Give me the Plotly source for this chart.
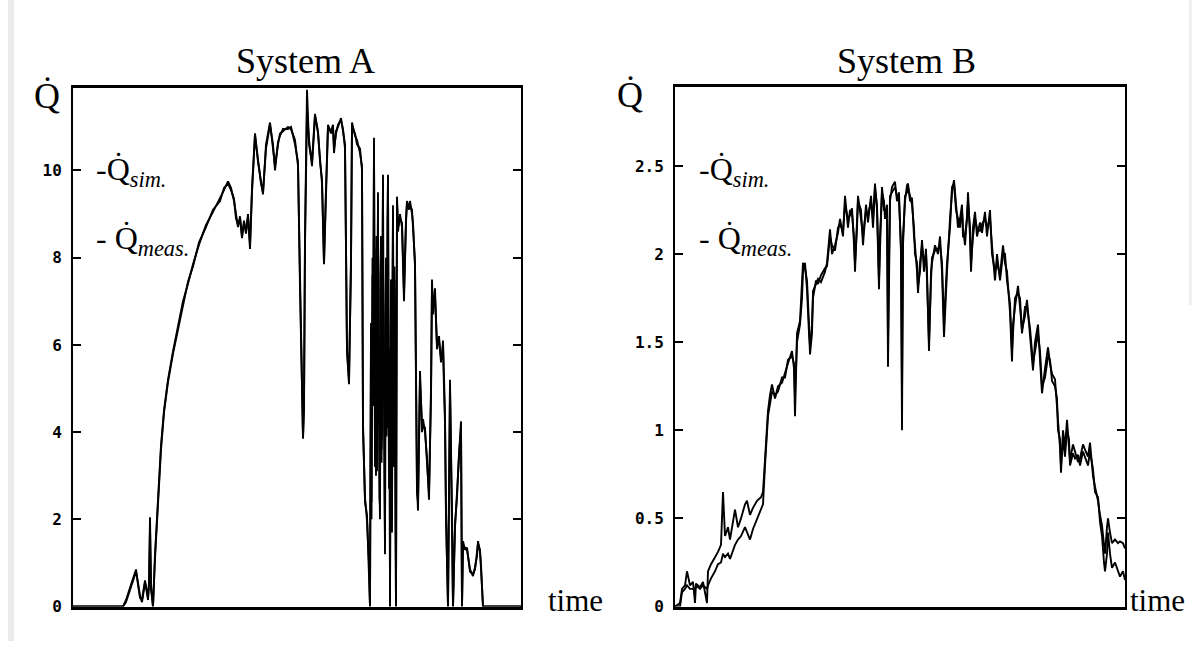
import plotly.graph_objects as go

# ---------------- data : System A ----------------
tA = [0, 50, 53, 56, 60, 63, 65, 67, 69, 71,
      72, 74, 75, 76, 77, 78, 79, 80, 82, 85,
      88, 91, 95, 100, 105, 110, 115, 120, 126, 133,
      140, 147, 151, 155, 158, 161, 163, 165, 167, 169,
      171, 173, 175, 177, 179, 182, 185, 188, 190, 193,
      197, 200, 202, 205, 207, 210, 215, 218, 222, 225,
      227, 229, 230, 231, 232, 234, 236, 239, 242, 245,
      247, 249, 251, 253, 255, 258, 260, 261, 263, 265,
      268, 270, 272, 274, 276, 278, 279, 282, 284, 287,
      289, 290, 292, 294, 296,
      297, 297.5, 298, 298.5, 299, 299.5, 300, 300.5, 301, 301.5,
      302, 302.5, 303, 303.5, 304, 304.5, 305, 305.5, 306, 306.5,
      307, 307.5, 308, 308.5, 309, 309.5, 310, 310.5, 311, 311.5,
      312, 312.5, 313, 313.5, 314, 314.5, 315, 315.5, 316, 316.5,
      317, 317.5, 318, 318.5, 319, 319.5, 320, 320.5, 321, 321.5,
      322, 322.5, 323, 323.5, 324,
      325, 327, 329, 331, 333, 334, 336, 337, 339,
      340, 342, 344, 345, 347, 349, 350, 352, 354, 356,
      358, 359, 360, 362, 364, 366, 368, 369, 370, 371,
      372, 373, 375, 377, 378, 379, 380, 382, 384, 386,
      388, 389, 390, 392, 394, 397, 400, 402, 404, 405,
      407, 408, 410, 448]

simA = [0, 0, 0.15, 0.35, 0.6, 0.85, 0.5, 0.2, 0.15, 0.45,
        0.6, 0.3, 0.2, 0.55, 2.05, 0.4, 0.15, 0.0, 1.2, 2.6,
        3.7, 4.5, 5.2, 5.85, 6.4, 7.0, 7.4, 7.85, 8.3, 8.75,
        9.05, 9.35, 9.55, 9.75, 9.6, 9.3, 9.0, 8.7, 8.95, 8.5,
        8.8, 8.6, 8.95, 8.3, 9.6, 10.85, 10.2, 9.8, 9.45, 10.6,
        11.1, 10.5, 10.1, 10.6, 10.85, 10.9, 11.0, 10.95, 10.7, 10.1,
        7.5, 5.0, 3.85, 4.5, 8.5, 11.85, 10.6, 10.2, 11.3, 10.85,
        10.3, 9.7, 7.85, 9.7, 11.0, 10.9, 11.05, 10.4, 10.9, 11.0,
        11.2, 10.9, 10.6, 5.85, 5.1, 8.0, 11.1, 10.8, 10.7, 10.4,
        10.1, 4.05, 2.5, 1.97, 1.0,
        0.0, 3.0, 6.5, 2.0, 4.5, 8.0, 5.0, 9.5, 10.75, 7.0,
        3.5, 6.0, 3.0, 8.5, 3.1, 6.8, 9.5, 4.2, 6.0, 2.5,
        2.3, 7.2, 8.5, 3.6, 4.0, 7.8, 9.9, 5.0, 5.5, 2.8,
        1.5, 6.2, 8.0, 3.9, 4.5, 8.8, 9.9, 6.0, 3.0, 5.5,
        0.0, 4.0, 7.5, 5.0, 2.0, 6.8, 9.2, 4.8, 3.5, 7.5,
        6.5, 2.0, 0.0, 5.0, 9.4,
        8.6, 9.0, 8.7, 7.0, 8.9, 9.3, 9.1, 9.3, 9.0,
        8.8, 7.8, 2.6, 2.4, 5.4, 4.0, 4.3, 4.0, 3.4, 2.45,
        5.0, 7.5, 6.7, 7.3, 5.9, 6.2, 5.6, 5.8, 6.0, 5.0,
        4.2, 2.2, 0.0, 5.2, 3.5, 2.4, 0.0, 1.8, 2.6, 3.4,
        4.25, 0.0, 1.5, 1.3, 1.35, 0.8, 0.75, 0.85, 1.2, 1.45,
        1.3, 0.9, 0.0, 0.0]

measA = [0, 0, 0.1, 0.3, 0.55, 0.8, 0.55, 0.25, 0.1, 0.4,
         0.55, 0.35, 0.15, 0.5, 1.8, 0.5, 0.1, 0.0, 1.1, 2.5,
         3.6, 4.45, 5.15, 5.8, 6.35, 6.95, 7.45, 7.8, 8.35, 8.7,
         9.1, 9.3, 9.6, 9.7, 9.55, 9.35, 8.9, 8.75, 8.9, 8.45,
         8.85, 8.55, 9.0, 8.2, 9.5, 10.8, 10.3, 9.7, 9.5, 10.5,
         11.05, 10.6, 10.0, 10.65, 10.8, 10.95, 10.95, 11.0, 10.6, 10.2,
         7.3, 4.8, 3.9, 4.7, 8.3, 11.4, 10.7, 10.1, 11.25, 10.9,
         10.2, 9.8, 7.9, 9.6, 11.05, 10.85, 11.0, 10.5, 10.85, 11.05,
         11.15, 10.95, 10.5, 5.9, 5.2, 7.8, 11.0, 10.85, 10.6, 10.5,
         10.0, 4.2, 2.4, 2.1, 0.9,
         0.0, 3.4, 6.0, 2.4, 5.0, 7.6, 4.6, 9.3, 10.5, 7.4,
         3.2, 6.4, 3.4, 8.2, 3.5, 6.4, 9.3, 4.6, 5.6, 2.9,
         2.0, 7.6, 8.2, 3.3, 4.4, 7.4, 9.7, 5.4, 5.1, 3.2,
         1.2, 6.6, 7.7, 4.3, 4.1, 8.5, 9.8, 6.4, 2.7, 5.9,
         0.0, 4.4, 7.2, 5.4, 1.7, 7.1, 9.0, 5.2, 3.2, 7.8,
         6.2, 2.4, 0.0, 5.4, 9.3,
         8.7, 8.9, 8.8, 7.2, 8.8, 9.25, 9.15, 9.2, 9.1,
         8.7, 7.9, 2.8, 2.2, 5.2, 4.2, 4.1, 4.1, 3.3, 2.6,
         4.8, 7.3, 6.9, 7.1, 6.0, 6.1, 5.7, 5.7, 6.1, 4.8,
         4.4, 2.0, 0.0, 5.0, 3.7, 2.2, 0.0, 1.9, 2.5, 3.5,
         4.1, 0.0, 1.4, 1.35, 1.3, 0.85, 0.7, 0.9, 1.15, 1.5,
         1.25, 0.95, 0.0, 0.0]

# ---------------- data : System B ----------------
tB = [0, 5, 7, 10, 12, 15, 18, 20, 21, 25,
      28, 32, 33, 36, 40, 43, 46, 48, 50, 53,
      55, 58, 60, 63, 66, 70, 72, 75, 78, 82,
      86, 88, 90, 93, 95, 97, 100, 103, 107, 110,
      113, 117, 119, 120, 122, 125, 127, 128, 130, 132,
      134, 135, 137, 138, 141, 143, 146, 150, 152, 155,
      157, 160, 163, 165, 168, 170, 173, 175, 177, 179,
      180, 182, 183, 186, 188, 191, 193, 196, 198, 200,
      202, 204, 205, 207, 209, 210, 212, 213, 214, 215,
      217, 220, 222, 224, 226, 227, 228, 230, 232, 233,
      235, 237, 239, 240, 242, 243, 245, 247, 249, 251,
      252, 254, 256, 257, 260, 263, 265, 267, 269, 271,
      272, 275, 277, 279, 281, 283, 285, 287, 288, 290,
      292, 293, 295, 296, 298, 300, 302, 305, 307, 310,
      312, 315, 317, 320, 322, 325, 328, 330, 332, 335,
      337, 338, 340, 343, 345, 347, 350, 352, 355, 358,
      360, 363, 365, 367, 370, 373, 375, 377, 380, 382,
      383, 385, 386, 388, 390, 392, 394, 395, 398, 400,
      403, 405, 408, 410, 413, 415, 418, 420, 423, 425,
      427, 429, 430, 432, 433, 435, 437, 440, 443, 445,
      448, 450]

simB = [0.0, 0.02, 0.1, 0.12, 0.2, 0.12, 0.14, 0.02, 0.13, 0.11,
        0.14, 0.02, 0.2, 0.24, 0.28, 0.31, 0.35, 0.65, 0.4, 0.45,
        0.38, 0.5, 0.55, 0.45, 0.5, 0.58, 0.6, 0.52, 0.56, 0.6,
        0.62, 0.65, 0.85, 1.11, 1.2, 1.26, 1.18, 1.25, 1.27, 1.33,
        1.38, 1.45, 1.35, 1.08, 1.55, 1.62, 1.8, 1.95, 1.92, 1.85,
        1.6, 1.43, 1.55, 1.79, 1.83, 1.86, 1.84, 1.9, 1.95, 2.14,
        2.0, 2.05, 2.12, 2.2, 2.1, 2.33, 2.15, 2.25, 2.23, 2.1,
        1.9, 2.2, 2.33, 2.2, 2.1, 2.25, 2.22, 2.3, 2.2, 2.4,
        2.25, 1.8, 2.1, 2.35, 2.3, 2.2, 2.28, 1.36, 2.0, 2.3,
        2.38, 2.41, 2.3, 2.35, 2.0, 1.0, 2.1, 2.3, 2.39, 2.4,
        2.3, 2.32, 2.1, 2.05, 1.9, 1.78, 1.95, 2.05, 1.95, 2.0,
        1.9, 1.45, 1.9, 1.95, 2.05, 2.0, 2.1, 1.9, 1.53, 1.85,
        1.9, 2.2, 2.35, 2.42, 2.3, 2.15, 2.2, 2.28, 2.1, 2.1,
        2.2, 2.35, 2.1, 1.9, 2.15, 2.24, 2.1, 2.18, 2.12, 2.24,
        2.1, 2.25, 2.0, 1.9, 1.95, 1.88, 2.05, 1.95, 1.9, 1.67,
        1.39, 1.6, 1.7, 1.82, 1.7, 1.57, 1.65, 1.74, 1.54, 1.34,
        1.5, 1.6, 1.4, 1.21, 1.35, 1.47, 1.38, 1.32, 1.29, 1.15,
        1.06, 0.9, 0.76, 1.0, 0.9, 1.06, 0.9, 0.83, 0.92, 0.88,
        0.82, 0.84, 0.92, 0.89, 0.85, 0.93, 0.74, 0.68, 0.6, 0.52,
        0.46, 0.35, 0.3, 0.45, 0.5, 0.42, 0.36, 0.38, 0.36, 0.37,
        0.36, 0.33]

measB = [0.0, 0.0, 0.08, 0.1, 0.12, 0.1, 0.1, 0.1, 0.12, 0.1,
         0.12, 0.1, 0.12, 0.16, 0.2, 0.24, 0.25, 0.3, 0.28, 0.3,
         0.27, 0.32, 0.35, 0.38, 0.4, 0.45, 0.42, 0.38, 0.44, 0.5,
         0.55, 0.58, 0.8, 1.08, 1.15, 1.22, 1.2, 1.22, 1.3, 1.3,
         1.4, 1.42, 1.38, 1.2, 1.5, 1.6, 1.75, 1.9, 1.95, 1.8,
         1.55, 1.48, 1.6, 1.75, 1.85, 1.83, 1.88, 1.92, 1.93, 2.1,
         2.05, 2.02, 2.15, 2.17, 2.13, 2.28, 2.2, 2.22, 2.26, 2.05,
         1.95, 2.15, 2.3, 2.25, 2.05, 2.28, 2.18, 2.33, 2.15, 2.37,
         2.28, 1.85, 2.05, 2.38, 2.25, 2.25, 2.24, 1.5, 1.95, 2.33,
         2.35, 2.38, 2.33, 2.3, 2.05, 1.2, 2.05, 2.33, 2.35, 2.38,
         2.33, 2.28, 2.15, 2.0, 1.95, 1.82, 1.9, 2.08, 1.9, 2.03,
         1.85, 1.5, 1.85, 1.98, 2.02, 2.03, 2.05, 1.95, 1.6, 1.8,
         1.95, 2.15, 2.38, 2.4, 2.25, 2.2, 2.15, 2.25, 2.15, 2.05,
         2.25, 2.3, 2.15, 1.95, 2.1, 2.2, 2.15, 2.13, 2.17, 2.2,
         2.15, 2.2, 2.05, 1.85, 2.0, 1.85, 2.0, 2.0, 1.85, 1.72,
         1.45, 1.55, 1.75, 1.78, 1.75, 1.55, 1.7, 1.7, 1.58, 1.38,
         1.45, 1.55, 1.45, 1.25, 1.3, 1.42, 1.4, 1.28, 1.25, 1.18,
         1.0, 0.95, 0.8, 0.95, 0.85, 1.0, 0.95, 0.8, 0.87, 0.84,
         0.86, 0.8, 0.88, 0.85, 0.8, 0.88, 0.78, 0.65, 0.62, 0.48,
         0.4, 0.25, 0.2, 0.3, 0.42, 0.3, 0.22, 0.25, 0.2, 0.17,
         0.2, 0.15]

assert len(tA) == len(simA) == len(measA), (len(tA), len(simA), len(measA))
assert len(tB) == len(simB) == len(measB), (len(tB), len(simB), len(measB))

ticksA = [0, 2, 4, 6, 8, 10]
ticktextA = ["0", "2", "4", "6", "8", "10"]
ticksB = [0, 0.5, 1, 1.5, 2, 2.5]
ticktextB = ["0", "0.5", "1", "1.5", "2", "2.5"]

W, H = 1196, 651


def px(x):
    return x / W


def py(y):
    return 1 - y / H


fig = go.Figure()
line_style = dict(color="black", width=1.9)
fig.add_trace(go.Scatter(x=tA, y=simA, mode="lines", line=line_style, xaxis="x", yaxis="y", showlegend=False))
fig.add_trace(go.Scatter(x=tA, y=measA, mode="lines", line=line_style, xaxis="x", yaxis="y", showlegend=False))
fig.add_trace(go.Scatter(x=tB, y=simB, mode="lines", line=line_style, xaxis="x2", yaxis="y2", showlegend=False))
fig.add_trace(go.Scatter(x=tB, y=measB, mode="lines", line=line_style, xaxis="x2", yaxis="y2", showlegend=False))

xcommon = dict(showline=True, linecolor="black", linewidth=2.5, mirror=True, ticks="",
               showticklabels=False, showgrid=False, zeroline=False)
ycommon = dict(showline=True, linecolor="black", linewidth=2, mirror="ticks", ticks="inside",
               ticklen=8, tickwidth=2, tickcolor="black", showgrid=False, zeroline=False,
               tickfont=dict(family="DejaVu Sans Mono", size=16, color="black", weight="bold"),
               ticklabelstandoff=6)

fig.update_layout(
    width=W, height=H, margin=dict(l=0, r=0, t=0, b=0),
    paper_bgcolor="white", plot_bgcolor="white",
    xaxis=dict(domain=[px(73), px(521)], range=[0, 448], anchor="y", **xcommon),
    yaxis=dict(domain=[py(616), py(89)], range=[0, 11.9], anchor="x",
               tickvals=ticksA, ticktext=ticktextA, **ycommon),
    xaxis2=dict(domain=[px(675), px(1125)], range=[0, 450], anchor="y2", **xcommon),
    yaxis2=dict(domain=[py(616), py(88)], range=[0, 2.95], anchor="x2",
                tickvals=ticksB, ticktext=ticktextB, **ycommon),
)

serif = "Liberation Serif"
ann = []


def text(x, y, s, size, xanchor="center", yanchor="middle"):
    ann.append(dict(x=px(x), y=py(y), xref="paper", yref="paper", text=s, showarrow=False,
                    xanchor=xanchor, yanchor=yanchor,
                    font=dict(family=serif, size=size, color="black")))


# titles
text(305, 62, "System A", 36)
text(906, 62, "System B", 36)
# y labels
text(47, 98, "Q\u0307", 36)
text(630, 96, "Q\u0307", 36)
# x labels
text(575, 610, "time", 31)
text(1157, 610, "time", 31)
# in-plot legend texts
for x0 in (94, 697):
    text(x0, 174, "-Q\u0307<sub><i>sim.</i></sub>", 32, xanchor="left")
    text(x0, 244, "- Q\u0307<sub><i>meas.</i></sub>", 32, xanchor="left")

fig.update_layout(annotations=ann)

fig.update_layout(shapes=[
    dict(type="rect", xref="paper", yref="paper", x0=px(8), x1=px(14), y0=0, y1=1,
         fillcolor="#ebebeb", line=dict(width=0), layer="below"),
    dict(type="rect", xref="paper", yref="paper", x0=px(1189), x1=px(1192), y0=py(310), y1=1,
         fillcolor="#f0f0f0", line=dict(width=0), layer="below"),
])

fig.write_html("out.html")
